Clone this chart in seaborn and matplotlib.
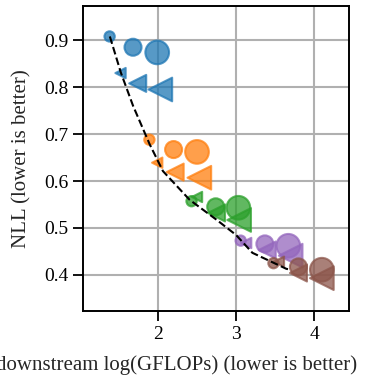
import matplotlib
matplotlib.use("Agg")
import matplotlib.pyplot as plt
import seaborn as sns
import pandas as pd

# Model families (colour), variant (marker) and scale (marker size)
families = ["A"] * 6 + ["B"] * 6 + ["C"] * 6 + ["D"] * 6 + ["E"] * 6
variants = ["base", "base", "base", "adapted", "adapted", "adapted"] * 5
scales = ["S", "M", "L", "S", "M", "L"] * 5

gflops_log = [
    1.38, 1.68, 1.99, 1.52, 1.74, 2.03,
    1.89, 2.20, 2.50, 1.99, 2.22, 2.53,
    2.43, 2.74, 3.03, 2.50, 2.75, 3.04,
    3.06, 3.37, 3.67, 3.13, 3.40, 3.70,
    3.48, 3.80, 4.10, 3.55, 3.80, 4.10,
]
nll = [
    0.908, 0.885, 0.874, 0.830, 0.808, 0.795,
    0.688, 0.667, 0.662, 0.639, 0.619, 0.607,
    0.557, 0.545, 0.543, 0.566, 0.532, 0.517,
    0.473, 0.466, 0.462, 0.468, 0.453, 0.441,
    0.425, 0.417, 0.411, 0.428, 0.404, 0.393,
]

# Trend curve through the smallest models
trend_x = [1.383, 1.524, 1.681, 1.894, 2.064, 2.405, 2.746, 3.001, 3.21, 3.644, 3.70]
trend_y = [0.908, 0.831, 0.760, 0.678, 0.621, 0.560, 0.518, 0.485, 0.447, 0.413, 0.411]

df = pd.DataFrame({
    "family": families,
    "variant": variants,
    "scale": scales,
    "gflops": gflops_log,
    "nll": nll,
})

sns.set_style("ticks")
plt.rcParams["font.family"] = ["Liberation Serif", "DejaVu Serif"]
plt.rcParams["font.size"] = 15

fig = plt.figure(figsize=(3.66, 3.77), dpi=100)
ax = fig.add_axes([0.227, 0.175, 0.727, 0.808])

tab = sns.color_palette("tab10")
palette = dict(zip(["A", "B", "C", "D", "E"], [tab[0], tab[1], tab[2], tab[4], tab[5]]))
sns.scatterplot(
    data=df, x="gflops", y="nll",
    hue="family", palette=palette,
    style="variant", markers={"base": "o", "adapted": "<"},
    size="scale", sizes={"S": 55, "M": 150, "L": 290},
    alpha=0.75, edgecolor="face", linewidth=1.5,
    legend=False, ax=ax, zorder=3,
)
ax.plot(trend_x, trend_y, ls="--", color="black", lw=1.5, zorder=4)

ax.set_xlim(1.04, 4.45)
ax.set_ylim(0.323, 0.972)
ax.set_xticks([2, 3, 4])
ax.set_yticks([0.4, 0.5, 0.6, 0.7, 0.8, 0.9])
ax.grid(True, color="#b0b0b0", lw=1.5, zorder=0)
ax.set_axisbelow(True)
for sp in ax.spines.values():
    sp.set_linewidth(1.4)
    sp.set_color("black")
ax.tick_params(axis="both", length=7, width=1.3, labelsize=14, colors="black")

ax.set_xlabel("downstream log(GFLOPs) (lower is better)", fontsize=15)
ax.set_ylabel("NLL (lower is better)", fontsize=15)
ax.xaxis.set_label_coords(0.353, -0.145)
ax.yaxis.set_label_coords(-0.195, 0.5)

fig.savefig("out.png", dpi=100)
